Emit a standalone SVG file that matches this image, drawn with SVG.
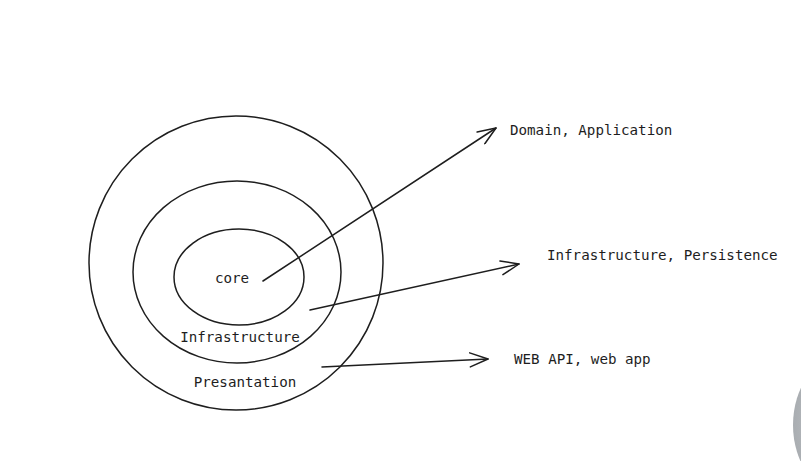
<svg xmlns="http://www.w3.org/2000/svg" width="801" height="461" viewBox="0 0 801 461">
<defs>
<marker id="arr" viewBox="0 0 20 16" refX="19" refY="8" markerWidth="20" markerHeight="16" markerUnits="userSpaceOnUse" orient="auto">
<path d="M1,1 L19,8 L1,15" fill="none" stroke="#1e1e1e" stroke-width="1.5" stroke-linecap="round" stroke-linejoin="round"/>
</marker>
<radialGradient id="g" cx="0.6" cy="0.5" r="0.6">
<stop offset="0" stop-color="#d4d7da"/>
<stop offset="1" stop-color="#a9adb1"/>
</radialGradient>
</defs>
<style>
.ring{fill:none;stroke:#1e1e1e;stroke-width:1.5}
.t{font-family:"DejaVu Sans Mono","Liberation Mono",monospace;font-size:14.2px;fill:#1e1e1e}
.c{stroke:#1e1e1e;stroke-width:1.5;fill:none;stroke-linecap:round;marker-end:url(#arr)}
</style>
<rect width="801" height="461" fill="#ffffff"/>
<g id="presentation">
<ellipse class="ring" cx="236" cy="263" rx="147" ry="147"/>
<text class="t" x="245" y="387" text-anchor="middle">Presantation</text>
</g>
<g id="infrastructure">
<ellipse class="ring" cx="237" cy="272" rx="104" ry="91"/>
<text class="t" x="240" y="342" text-anchor="middle">Infrastructure</text>
</g>
<g id="core">
<ellipse class="ring" cx="239" cy="277" rx="65" ry="48"/>
<text class="t" x="232" y="283" text-anchor="middle">core</text>
</g>
<g id="label-domain">
<text class="t" x="510" y="135">Domain, Application</text>
</g>
<g id="label-infra">
<text class="t" x="547" y="260">Infrastructure, Persistence</text>
</g>
<g id="label-web">
<text class="t" x="514" y="364">WEB API, web app</text>
</g>
<g id="connectors">
<path class="c" d="M263,281 L496,128"/>
<path class="c" d="M310,310 L519,264"/>
<path class="c" d="M322,367 L488,359"/>
</g>
<ellipse cx="845" cy="425" rx="52" ry="70" fill="url(#g)"/>
</svg>
